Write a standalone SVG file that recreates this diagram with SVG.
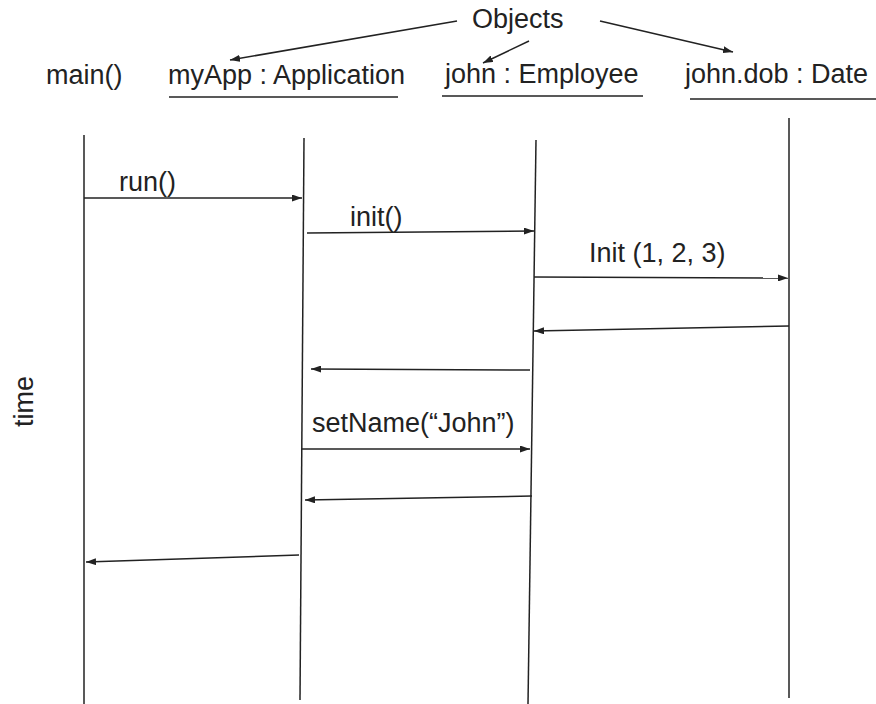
<svg xmlns="http://www.w3.org/2000/svg" width="876" height="704" viewBox="0 0 876 704">
<defs>
<style>
text{font-family:"Liberation Sans",Arial,sans-serif;font-size:27px;fill:#222}
.ln{stroke:#222;stroke-width:1.5;fill:none}
.msg{stroke:#222;stroke-width:1.5;fill:none;marker-end:url(#ah)}
</style>
<marker id="ah" markerUnits="userSpaceOnUse" markerWidth="10" markerHeight="7" refX="10" refY="3.5" orient="auto">
<path d="M0,0 L10,3.5 L0,7 z" fill="#222"/>
</marker>
</defs>
<rect width="876" height="704" fill="#fff"/>
<g id="objects-label">
<text x="472" y="28">Objects</text>
</g>
<g id="main">
<text x="46" y="84">main()</text>
<line class="ln" x1="84" y1="135" x2="84" y2="704"/>
</g>
<g id="myApp">
<text x="168" y="84">myApp : Application</text>
<line class="ln" x1="169" y1="97" x2="398" y2="97"/>
<line class="ln" x1="304" y1="138" x2="300" y2="700"/>
</g>
<g id="john">
<text x="445" y="83">john : Employee</text>
<line class="ln" x1="442" y1="96" x2="643" y2="96"/>
<line class="ln" x1="536" y1="140" x2="528" y2="704"/>
</g>
<g id="dob">
<text x="685" y="83">john.dob : Date</text>
<line class="ln" x1="690" y1="99" x2="876" y2="99"/>
<line class="ln" x1="789" y1="118" x2="789" y2="698"/>
</g>
<g id="time">
<text transform="translate(33,427) rotate(-90)">time</text>
</g>
<g id="connectors">
<line class="msg" x1="457" y1="21" x2="230" y2="60"/>
<line class="msg" x1="529" y1="41" x2="483" y2="63"/>
<line class="msg" x1="600" y1="21" x2="733" y2="52"/>
<line class="msg" x1="84" y1="198" x2="302" y2="198"/>
<line class="msg" x1="307" y1="233" x2="534" y2="231"/>
<line class="msg" x1="534" y1="277" x2="788" y2="278"/>
<line class="msg" x1="789" y1="326" x2="534" y2="331"/>
<line class="msg" x1="530" y1="370" x2="311" y2="369"/>
<line class="msg" x1="302" y1="449" x2="530" y2="449"/>
<line class="msg" x1="532" y1="496" x2="305" y2="500"/>
<line class="msg" x1="299" y1="555" x2="86" y2="562"/>
<text x="119" y="191">run()</text>
<text x="350" y="226">init()</text>
<text x="589" y="262">Init (1, 2, 3)</text>
<text x="312" y="432">setName(“John”)</text>
</g>
</svg>
